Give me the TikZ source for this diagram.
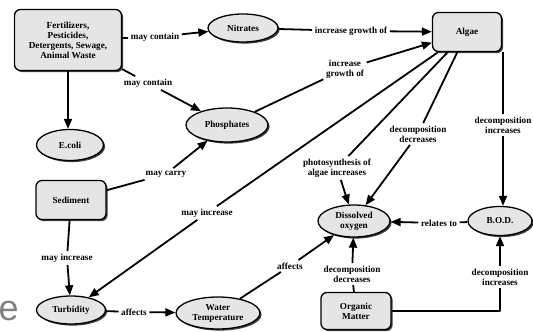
\documentclass[tikz,border=0pt]{standalone}
\usepackage{fontspec}
\setmainfont{Liberation Serif}
\setsansfont{Liberation Sans}
\usetikzlibrary{arrows.meta,shapes.geometric,shadows}
\tikzset{cmap/.style={
  x=1pt,y=-1pt,
  >={Triangle[length=10pt,width=8pt]},line join=round
},
box/.style={draw,line width=1.3pt,fill=black!10,rounded corners=6pt,
  drop shadow={shadow xshift=1.6pt,shadow yshift=-1.6pt,fill=black!75,opacity=1},
  font=\fontsize{9.2}{10}\selectfont\bfseries,align=center,inner sep=2pt},
oval/.style={ellipse,draw,line width=1.3pt,fill=black!10,
  drop shadow={shadow xshift=1.6pt,shadow yshift=-1.6pt,fill=black!75,opacity=1},
  font=\fontsize{9.2}{10}\selectfont\bfseries,align=center,inner sep=0pt},
phrase/.style={font=\fontsize{9.2}{10}\selectfont\bfseries,align=center,inner sep=2.5pt},
link/.style={line width=1.8pt}
}

\begin{document}
\begin{tikzpicture}[cmap]
  \useasboundingbox (0,0) rectangle (533,332);
  \node[box,minimum width=107pt,minimum height=61pt] (fert) at (68,40)
    {Fertilizers,\\Pesticides,\\Detergents, Sewage,\\Animal Waste};
  \node[oval,minimum width=70pt,minimum height=28pt] (nitrates) at (243,28) {Nitrates};
  \node[box,minimum width=69pt,minimum height=39pt] (algae) at (467,32) {Algae};
  \node[oval,minimum width=82pt,minimum height=34pt] (phosph) at (227,125) {Phosphates};
  \node[oval,minimum width=67pt,minimum height=31pt] (ecoli) at (70,145) {E.coli};
  \node[box,minimum width=70pt,minimum height=39pt] (sediment) at (71,200) {Sediment};
  \node[oval,minimum width=72pt,minimum height=32pt] (oxygen) at (354,221) {Dissolved\\oxygen};
  \node[oval,minimum width=64pt,minimum height=29pt] (bod) at (500,221) {B.O.D.};
  \node[box,minimum width=70pt,minimum height=37pt] (organic) at (356,311) {Organic\\Matter};
  \node[oval,minimum width=84pt,minimum height=32pt] (watertemp) at (218,313) {Water\\Temperature};
  \node[oval,minimum width=69pt,minimum height=28pt] (turbidity) at (71,310) {Turbidity};
  \node[text=black!50,font=\sffamily\fontsize{36}{36}\selectfont,anchor=base west,inner sep=0pt]
    (cut) at (-1.5,320) {e};

  \node[phrase] (p1) at (155,37) {may contain};
  \node[phrase] (p2) at (148,83) {may contain};
  \node[phrase] (p3) at (351,31) {increase growth of};
  \node[phrase] (p4) at (345,69) {increase\\growth of};
  \node[phrase] (p5) at (166,174) {may carry};
  \node[phrase] (p6) at (207,213) {may increase};
  \node[phrase] (p7) at (67,258) {may increase};
  \node[phrase] (p8) at (337,168) {photosynthesis of\\algae increases};
  \node[phrase] (p9) at (418,134) {decomposition\\decreases};
  \node[phrase] (p10) at (503,125) {decomposition\\increases};
  \node[phrase] (p11) at (439,223) {relates to};
  \node[phrase] (p12) at (352,274) {decomposition\\decreases};
  \node[phrase] (p13) at (500,277) {decomposition\\increases};
  \node[phrase] (p14) at (134,312) {affects};
  \node[phrase] (p15) at (290,266) {affects};

  \draw[link] (fert) -- (p1);  \draw[link,->] (p1) -- (nitrates);
  \draw[link] (fert) -- (p2);  \draw[link,->] (p2) -- (phosph);
  \draw[link,->] (fert) -- (fert |- ecoli.north);
  \draw[link] (nitrates) -- (p3);  \draw[link,->] (p3) -- (algae);
  \draw[link] (phosph) -- (p4);  \draw[link,->] (p4) -- (algae);
  \draw[link] (sediment) -- (p5);  \draw[link,->] (p5) -- (phosph);
  \draw[link] (sediment) -- (p7);  \draw[link,->] (p7) -- (turbidity);
  \draw[link] (algae) -- (p6);  \draw[link,->] (p6) -- (turbidity);
  \draw[link] (algae) -- (p8);  \draw[link,->] (p8) -- (oxygen);
  \draw[link] (algae) -- (p9);  \draw[link,->] (p9) -- (oxygen);
  \draw[link] (p10) -- (p10 |- algae.south);  \draw[link,->] (p10) -- (p10 |- bod.north);
  \draw[link] (bod) -- (p11);  \draw[link,->] (p11) -- (oxygen);
  \draw[link] (organic) -- (p12);  \draw[link,->] (p12) -- (oxygen);
  \draw[link] (organic) -| (p13);  \draw[link,->] (p13) -- (p13 |- bod.south);
  \draw[link] (turbidity) -- (p14);  \draw[link,->] (p14) -- (watertemp);
  \draw[link] (watertemp) -- (p15);  \draw[link,->] (p15) -- (oxygen);
\end{tikzpicture}
\end{document}
